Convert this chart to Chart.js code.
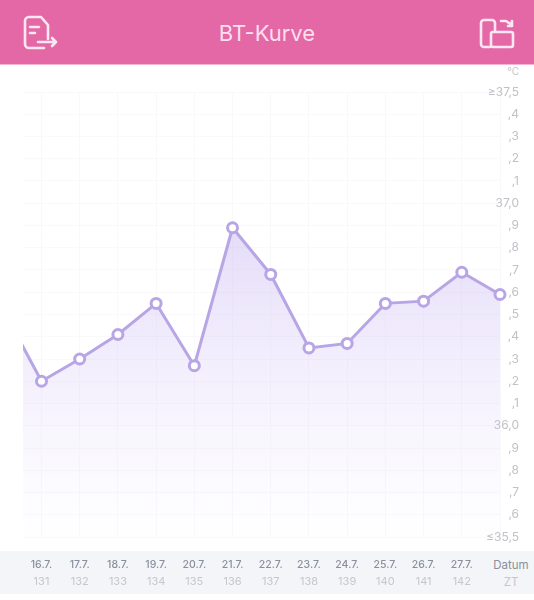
<!DOCTYPE html>
<html>
<head>
<meta charset="utf-8">
<script src="https://cdn.jsdelivr.net/npm/chart.js@4"></script>
<style>
  html, body { margin: 0; padding: 0; background: #fff; }
  body { width: 534px; height: 600px; position: relative; overflow: hidden; font-family: Inter, "Noto Sans", sans-serif; }
  .header { position: absolute; left: 0; top: 0; width: 534px; height: 64px; background: #e468a6; border-bottom: 1px solid #f3b5d3; }
  .header h1 { margin: 0; font-size: 22px; font-weight: 400; line-height: 66px; text-align: center; color: #fbdfed; }
  .header svg { position: absolute; fill: none; stroke: #fbe7f1; stroke-width: 2.6; stroke-linecap: round; stroke-linejoin: round; }
  .strip { position: absolute; left: 0; top: 551px; width: 534px; height: 43px; background: #f3f5f9; }
  .side { position: absolute; text-align: center; width: 50px; left: 486px; font-size: 11.5px; }
  .unit { position: absolute; right: 15px; top: 65px; font-size: 10px; color: #c4c6cc; }
  canvas { position: absolute; left: 0; top: 0; }
</style>
</head>
<body>
<div class="strip"></div>
<div class="header">
  <svg style="left:23px;top:15px" width="35" height="35" viewBox="0 0 35 35">
    <path d="M25 24V10l-7-8H6a4 4 0 0 0-4 4v23a4 4 0 0 0 4 4h15"/>
    <path d="M7 12h9M7 18h5M15 27h18M29 23l4 4-4 4"/>
  </svg>
  <svg style="left:479px;top:18px" width="36" height="31" viewBox="0 0 36 31">
    <path d="M11 29H5a3 3 0 0 1-3-3V5a3 3 0 0 1 3-3h8a3 3 0 0 1 3 3v8"/>
    <rect x="12" y="14" width="22" height="15" rx="2"/>
    <path d="M22 3h5l6 4M33 3v5h-4"/>
  </svg>
  <h1>BT-Kurve</h1>
</div>
<div class="unit">°C</div>
<div class="side" style="top:558px;color:#8a8f9c">Datum</div>
<div class="side" style="top:575px;color:#c4c7ce">ZT</div>
<canvas id="curveChart" width="534" height="600"></canvas>
<script>
const dates = ["16.7.", "17.7.", "18.7.", "19.7.", "20.7.", "21.7.", "22.7.", "23.7.", "24.7.", "25.7.", "26.7.", "27.7.", ""];
const cycleDays = ["131", "132", "133", "134", "135", "136", "137", "138", "139", "140", "141", "142", ""];
// first value is the day before 16.7., only its line shows at the left edge
const temperatures = [36.52, 36.2, 36.3, 36.41, 36.55, 36.27, 36.89, 36.68, 36.35, 36.37, 36.55, 36.56, 36.69, 36.59];
const yTickLabels = ["≤35,5", ",6", ",7", ",8", ",9", "36,0", ",1", ",2", ",3", ",4", ",5", ",6", ",7", ",8", ",9", "37,0", ",1", ",2", ",3", ",4", "≥37,5"];

const points = temperatures.map((value, i) => ({ x: i - 1, y: value }));

function setDayTicks(scale) {
  scale.ticks = dates.map((_, i) => ({ value: i }));
}

function fillGradient(context) {
  const area = context.chart.chartArea;
  if (!area) return "rgba(190,170,240,0.3)";
  const g = context.chart.ctx.createLinearGradient(0, 227, 0, area.bottom);
  g.addColorStop(0, "rgba(186,164,238,0.38)");
  g.addColorStop(0.5, "rgba(200,182,244,0.2)");
  g.addColorStop(1, "rgba(220,208,250,0.02)");
  return g;
}

new Chart(document.getElementById("curveChart").getContext("2d"), {
  type: "line",
  data: {
    datasets: [{
      data: points,
      borderColor: "#b8a5e6",
      borderWidth: 3,
      tension: 0,
      fill: "start",
      backgroundColor: fillGradient,
      pointRadius: 5,
      pointBorderWidth: 3,
      pointBackgroundColor: "#fff",
      pointBorderColor: "#b8a5e6",
      clip: { left: 0, top: 8, right: 8, bottom: 0 }
    }]
  },
  options: {
    responsive: false,
    animation: false,
    layout: { padding: { left: 23, top: 92, right: 15, bottom: 0 } },
    plugins: { legend: { display: false }, tooltip: { enabled: false } },
    scales: {
      x: {
        type: "linear",
        position: "bottom",
        min: -0.484,
        max: 12,
        afterBuildTicks: setDayTicks,
        afterFit: scale => { scale.height = 37; },
        border: { display: false },
        grid: { color: "#f9f9fb", drawTicks: false },
        ticks: {
          autoSkip: false,
          maxRotation: 0,
          padding: 22,
          color: "#8a8f9c",
          font: { family: "Inter", size: 10.5, weight: "500" },
          callback: value => dates[value]
        }
      },
      zt: {
        type: "linear",
        position: "bottom",
        min: -0.484,
        max: 12,
        afterBuildTicks: setDayTicks,
        afterFit: scale => { scale.height = 26; },
        border: { display: false },
        grid: { display: false, drawTicks: false },
        ticks: {
          autoSkip: false,
          maxRotation: 0,
          padding: 1,
          color: "#c4c7ce",
          font: { family: "Inter", size: 11 },
          callback: value => cycleDays[value]
        }
      },
      y: {
        position: "right",
        min: 35.5,
        max: 37.5,
        afterFit: scale => { scale.width = 19; },
        border: { display: false },
        grid: { color: "#f9f9fb", drawTicks: false },
        ticks: {
          stepSize: 0.1,
          autoSkip: false,
          mirror: true,
          padding: 19,
          color: "#c0c2c9",
          font: { family: "Inter", size: 12 },
          callback: (value, index) => yTickLabels[index]
        }
      }
    }
  }
});
</script>
</body>
</html>
